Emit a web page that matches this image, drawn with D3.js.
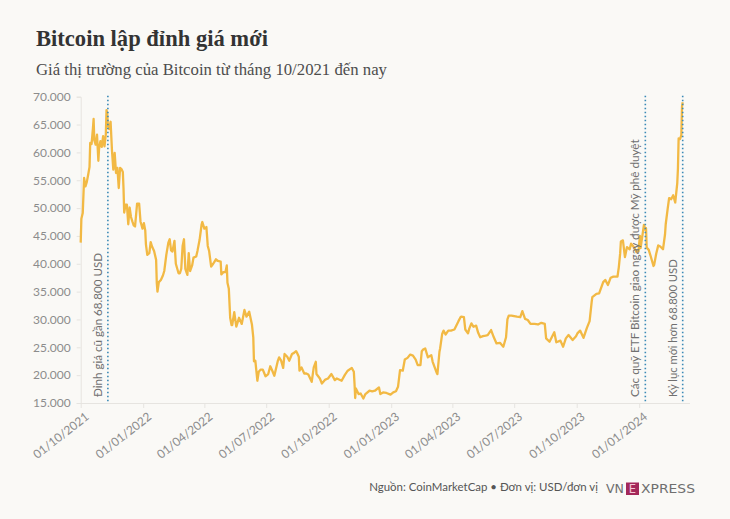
<!DOCTYPE html>
<html>
<head>
<meta charset="utf-8">
<script src="https://cdn.jsdelivr.net/npm/d3@7"></script>
<style>
  html, body { margin: 0; padding: 0; background: #faf9f6; }
  svg { display: block; }
</style>
</head>
<body>
<svg id="chart" width="730" height="519"></svg>
<script>
const titleText = "Bitcoin lập đỉnh giá mới";
const subtitleText = "Giá thị trường của Bitcoin từ tháng 10/2021 đến nay";
const sourceText = "Nguồn: CoinMarketCap • Đơn vị: USD/đơn vị";

const yTicks = [15000, 20000, 25000, 30000, 35000, 40000, 45000, 50000, 55000, 60000, 65000, 70000];
const xTickDates = ["2021-10-01","2022-01-01","2022-04-01","2022-07-01","2022-10-01","2023-01-01","2023-04-01","2023-07-01","2023-10-01","2024-01-01"];

const eventDates = ["2021-11-10", "2024-01-10", "2024-03-05"];
const eventLabels = ["Đỉnh giá cũ gần 68.800 USD", "Các quỹ ETF Bitcoin giao ngay được Mỹ phê duyệt", "Kỷ lục mới hơn 68.800 USD"];

const dates = [
"2021-10-01","2021-10-02","2021-10-04","2021-10-06","2021-10-08","2021-10-10","2021-10-12","2021-10-14","2021-10-15","2021-10-17",
"2021-10-19","2021-10-20","2021-10-21","2021-10-23","2021-10-25","2021-10-27","2021-10-28","2021-10-30","2021-11-01","2021-11-03",
"2021-11-05","2021-11-07","2021-11-08","2021-11-09","2021-11-10","2021-11-12","2021-11-14","2021-11-16","2021-11-18","2021-11-20",
"2021-11-22","2021-11-24","2021-11-26","2021-11-28","2021-11-30","2021-12-02","2021-12-03","2021-12-04","2021-12-06","2021-12-08",
"2021-12-10","2021-12-12","2021-12-14","2021-12-16","2021-12-18","2021-12-20","2021-12-23","2021-12-26","2021-12-28","2021-12-31",
"2022-01-02","2022-01-04","2022-01-05","2022-01-07","2022-01-10","2022-01-12","2022-01-14","2022-01-17","2022-01-20","2022-01-21",
"2022-01-22","2022-01-24","2022-01-27","2022-01-30","2022-02-01","2022-02-04","2022-02-07","2022-02-09","2022-02-11","2022-02-13",
"2022-02-16","2022-02-18","2022-02-22","2022-02-24","2022-02-26","2022-02-28","2022-03-02","2022-03-04","2022-03-07","2022-03-09",
"2022-03-11","2022-03-14","2022-03-16","2022-03-20","2022-03-22","2022-03-25","2022-03-28","2022-03-29","2022-04-01","2022-04-04",
"2022-04-06","2022-04-08","2022-04-11","2022-04-14","2022-04-16","2022-04-18","2022-04-21","2022-04-25","2022-04-26","2022-04-29",
"2022-05-02","2022-05-04","2022-05-05","2022-05-07","2022-05-09","2022-05-11","2022-05-12","2022-05-15","2022-05-18","2022-05-22",
"2022-05-26","2022-05-30","2022-06-02","2022-06-06","2022-06-10","2022-06-12","2022-06-13","2022-06-15","2022-06-18","2022-06-20",
"2022-06-23","2022-06-26","2022-06-30","2022-07-04","2022-07-07","2022-07-10","2022-07-13","2022-07-18","2022-07-20","2022-07-23",
"2022-07-26","2022-07-28","2022-08-01","2022-08-04","2022-08-08","2022-08-11","2022-08-14","2022-08-15","2022-08-18","2022-08-19",
"2022-08-22","2022-08-26","2022-08-29","2022-09-01","2022-09-06","2022-09-09","2022-09-12","2022-09-13","2022-09-18","2022-09-21",
"2022-09-26","2022-09-30","2022-10-05","2022-10-10","2022-10-13","2022-10-20","2022-10-25","2022-10-29","2022-11-04","2022-11-07",
"2022-11-08","2022-11-09","2022-11-10","2022-11-14","2022-11-17","2022-11-21","2022-11-24","2022-11-30","2022-12-04","2022-12-08",
"2022-12-14","2022-12-16","2022-12-20","2022-12-25","2022-12-31","2023-01-04","2023-01-08","2023-01-11","2023-01-13","2023-01-14",
"2023-01-18","2023-01-21","2023-01-25","2023-01-29","2023-02-02","2023-02-06","2023-02-09","2023-02-13","2023-02-15","2023-02-17",
"2023-02-20","2023-02-24","2023-03-01","2023-03-03","2023-03-09","2023-03-10","2023-03-13","2023-03-14","2023-03-17","2023-03-19",
"2023-03-22","2023-03-26","2023-03-30","2023-04-04","2023-04-10","2023-04-13","2023-04-14","2023-04-18","2023-04-20","2023-04-24",
"2023-04-26","2023-04-29","2023-05-02","2023-05-06","2023-05-09","2023-05-12","2023-05-16","2023-05-20","2023-05-23","2023-05-28",
"2023-06-01","2023-06-05","2023-06-10","2023-06-15","2023-06-19","2023-06-21","2023-06-23","2023-06-27","2023-07-01","2023-07-05",
"2023-07-10","2023-07-13","2023-07-17","2023-07-21","2023-07-25","2023-07-31","2023-08-05","2023-08-10","2023-08-15","2023-08-17",
"2023-08-22","2023-08-29","2023-09-01","2023-09-07","2023-09-11","2023-09-15","2023-09-19","2023-09-25","2023-09-30","2023-10-02",
"2023-10-06","2023-10-11","2023-10-16","2023-10-20","2023-10-23","2023-10-24","2023-10-30","2023-11-03","2023-11-09","2023-11-12",
"2023-11-16","2023-11-20","2023-11-24","2023-11-30","2023-12-02","2023-12-04","2023-12-05","2023-12-08","2023-12-11","2023-12-14",
"2023-12-18","2023-12-20","2023-12-24","2023-12-28","2023-12-31","2024-01-02","2024-01-03","2024-01-08","2024-01-10","2024-01-11",
"2024-01-12","2024-01-15","2024-01-18","2024-01-22","2024-01-23","2024-01-26","2024-01-29","2024-02-01","2024-02-05","2024-02-08",
"2024-02-09","2024-02-12","2024-02-14","2024-02-17","2024-02-20","2024-02-23","2024-02-26","2024-02-27","2024-02-28","2024-03-01",
"2024-03-03","2024-03-04","2024-03-05"
];

const prices = [
43800,48100,49100,55400,53900,54700,56000,57400,61700,61500,
64300,66000,62200,61400,63200,58500,60600,62000,61000,62900,
61100,63300,67600,67000,64900,64200,65500,60400,56900,59900,
56300,57200,53600,57200,57000,56500,53600,49200,50600,50600,
47100,50100,48400,47600,46900,46700,50800,50800,47600,46300,
47300,46000,43500,41600,41900,43900,43100,42300,40700,36500,
35000,36700,37100,37900,38700,41600,43800,44400,42400,42200,
44100,40000,38300,38300,39100,43200,44400,39100,38000,41900,
38700,39700,41100,41300,42400,44300,47100,47500,46300,46600,
43200,42300,39500,40000,40400,40800,40500,40400,38100,38500,
38500,39700,36600,35500,30300,29000,29000,31300,28700,30300,
29200,31700,30500,31400,29100,26800,22500,22600,19000,20600,
21000,21000,19800,20200,21600,20800,19900,22500,23200,22600,
21300,23800,23300,22600,23800,24000,24300,24100,23300,20800,
21400,20300,20300,20100,18800,21400,22400,20200,19400,18500,
19200,19400,20200,19100,19400,19000,20100,20800,21300,20600,
18500,15900,17600,16600,16700,15800,16600,17200,17100,17200,
17800,16600,16900,16800,16500,16900,17100,17900,19900,20900,
20800,22800,23100,23700,23500,22800,21800,21800,24300,24600,
24800,23200,23600,22400,20400,20200,24200,24800,27400,28000,
27300,28000,28000,28200,29700,30400,30500,30400,28200,27500,
28400,29300,28700,28900,27600,26800,27000,27100,27200,28100,
26800,25700,25800,25100,26800,30000,30700,30700,30600,30500,
30400,31500,30100,29900,29200,29200,29100,29400,29200,26600,
26000,27700,25900,26200,25100,26600,27200,26300,27000,27500,
28000,26700,28500,29700,33100,34000,34600,34700,36700,37100,
36200,37500,37700,37700,39400,41900,44000,44200,41200,43000,
42600,43600,43000,42100,42300,45000,42800,47000,46100,46400,
42900,42500,41300,39600,39800,41800,43300,43100,42600,45300,
47100,50000,51800,51600,52300,51000,54500,57100,62500,62400,
63100,68300,69000
];

const parse = d3.timeParse("%Y-%m-%d");
const series = dates.map((d, i) => ({ date: parse(d), value: prices[i] }));

const svg = d3.select("#chart");
svg.append("rect").attr("width", 730).attr("height", 519).attr("fill", "#faf9f6");

const pL = 80.7, pR = 682.7, pT = 96.7, pB = 403;
const x = d3.scaleTime().domain([parse("2021-10-01"), parse("2024-03-05")]).range([pL, pR]);
const y = d3.scaleLinear().domain([15000, 70000]).range([pB, pT]);

const vn = d3.formatLocale({ decimal: ",", thousands: ".", grouping: [3], currency: ["", ""] });
const fmtY = vn.format(",d");
const fmtX = d3.timeFormat("%d/%m/%Y");

function fit(sel, target) {
  const node = sel.node();
  const fs = parseFloat(sel.attr("font-size"));
  const w = node.getComputedTextLength();
  if (w > 0) sel.attr("font-size", (fs * target / w).toFixed(2));
}

// Title & subtitle
const title = svg.append("text").attr("x", 36).attr("y", 46)
  .attr("font-family", "'Liberation Serif', serif").attr("font-weight", "bold")
  .attr("font-size", 22).attr("fill", "#333").text(titleText);
fit(title, 232);
const sub = svg.append("text").attr("x", 36).attr("y", 74.5)
  .attr("font-family", "'Liberation Serif', serif")
  .attr("font-size", 16).attr("fill", "#4d4d4d").text(subtitleText);
fit(sub, 351);

// Y axis
const yAxis = svg.append("g").attr("transform", `translate(${pL},0)`)
  .call(d3.axisLeft(y).tickValues(yTicks).tickFormat(fmtY).tickSize(4).tickPadding(6));
yAxis.select(".domain").attr("stroke", "#e6e4e0");
yAxis.selectAll(".tick line").attr("stroke", "#e6e4e0");
yAxis.selectAll(".tick text").attr("font-family", "Lato, sans-serif").attr("font-size", 12).attr("fill", "#8c8c8c");

// X axis
const xAxis = svg.append("g").attr("transform", `translate(0,${pB})`)
  .call(d3.axisBottom(x).tickValues(xTickDates.map(parse)).tickFormat(fmtX).tickSize(5).tickPadding(4));
xAxis.select(".domain").attr("stroke", "#e6e4e0").attr("d", `M${pL},0.5H690`);
xAxis.selectAll(".tick line").attr("stroke", "#e6e4e0");
xAxis.selectAll(".tick text")
  .attr("font-family", "Lato, sans-serif").attr("font-size", 12).attr("fill", "#8c8c8c")
  .attr("text-anchor", "end").attr("dy", "0.35em")
  .attr("transform", "translate(6,12) rotate(-38)")
  .attr("x", 0).attr("y", 0);

// Line
const line = d3.line().x(d => x(d.date)).y(d => y(d.value)).curve(d3.curveLinear);
svg.append("path").datum(series).attr("d", line)
  .attr("fill", "none").attr("stroke", "#f2b944").attr("stroke-width", 2.3)
  .attr("stroke-linejoin", "round");

// Event lines
const eventTargets = [144, 258, 138];
eventDates.forEach((d, i) => {
  const ex = x(parse(d));
  svg.append("line").attr("x1", ex).attr("x2", ex).attr("y1", pT - 1).attr("y2", pB)
    .attr("stroke", "#3a8ab6").attr("stroke-width", 1.6).attr("stroke-dasharray", "1.6,2.4");
  const t = svg.append("text")
    .attr("transform", `translate(${ex - 6},397) rotate(-90)`)
    .attr("font-family", "Lato, sans-serif").attr("font-size", 13).attr("fill", "#707070")
    .text(eventLabels[i]);
  fit(t, eventTargets[i]);
});

// Footer
const src = svg.append("text").attr("x", 598).attr("y", 491).attr("text-anchor", "end")
  .attr("font-family", "Lato, sans-serif").attr("font-size", 12).attr("fill", "#555").text(sourceText);
fit(src, 229);

const logo = svg.append("g");
logo.append("text").attr("x", 606).attr("y", 492.5).attr("font-family", "'DejaVu Sans', sans-serif")
  .attr("font-size", 11.5).attr("fill", "#6f6f6f").attr("textLength", 18).attr("lengthAdjust", "spacingAndGlyphs").text("VN");
logo.append("rect").attr("x", 626).attr("y", 482.5).attr("width", 13).attr("height", 12.5).attr("fill", "#a3285a");
logo.append("text").attr("x", 632.5).attr("y", 492.5).attr("text-anchor", "middle").attr("font-family", "'DejaVu Sans', sans-serif")
  .attr("font-size", 11.5).attr("fill", "#f4c6d6").text("E");
logo.append("text").attr("x", 641).attr("y", 492.5).attr("font-family", "'DejaVu Sans', sans-serif")
  .attr("font-size", 11.5).attr("fill", "#6f6f6f").attr("textLength", 54).attr("lengthAdjust", "spacingAndGlyphs").text("XPRESS");
</script>
</body>
</html>
